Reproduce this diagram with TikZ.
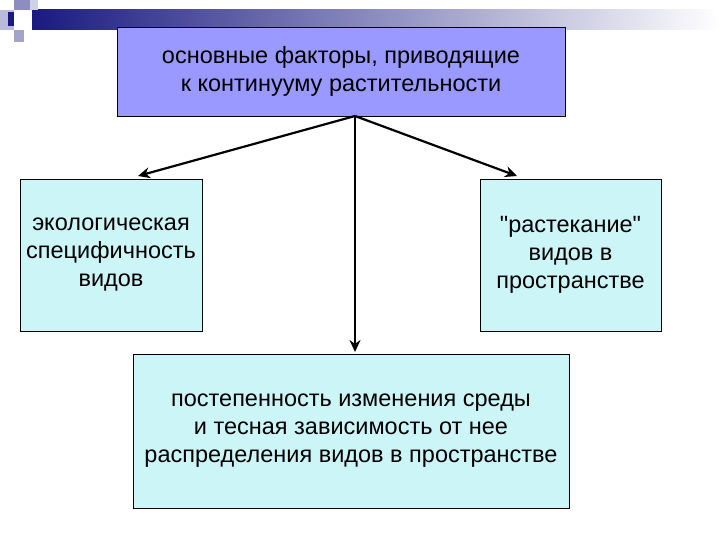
\documentclass[tikz,border=0pt]{standalone}
\usepackage{fontspec}
\setmainfont{Liberation Sans}[Ligatures=TeXOff]
\usetikzlibrary{arrows.meta}
\definecolor{topc}{HTML}{9999FF}
\definecolor{boxc}{HTML}{CCF5F8}
\definecolor{navy}{HTML}{1A1A80}
\begin{document}
\begin{tikzpicture}[x=1pt,y=-1pt,
  box/.style={draw=black,line width=0.8pt,align=center,font=\fontsize{23.5}{28}\selectfont},
  arr/.style={line width=2.2pt,-{Stealth[length=12pt,width=11pt]}}]
\useasboundingbox (0,0) rectangle (720,540);
\fill[white] (0,0) rectangle (720,540);
% decoration
\shade[left color=navy,right color=white] (32,10) rectangle (720,30);
\fill[navy!50!white] (14,0) rectangle (30,10);
\fill[navy!30!white] (0,10) rectangle (14,30);
\fill[navy] (8,12) rectangle (14,26);
\fill[navy!40!white] (14,30) rectangle (24,42);
\fill[navy!20!white] (30,0) rectangle (38,10);
% boxes
\node[box,fill=topc,minimum width=448pt,minimum height=89pt] (top) at (341,71.5)
  {основные факторы, приводящие\\к континууму растительности};
\node[box,fill=boxc,minimum width=182pt,minimum height=152pt] (left) at (111,255)
  {экологическая\\специфичность\\видов};
\node[box,fill=boxc,minimum width=181pt,minimum height=152pt] (right) at (570.5,255)
  {"растекание"\\видов в\\пространстве};
\node[box,fill=boxc,minimum width=436pt,minimum height=154pt] (bot) at (351,431)
  {постепенность изменения среды\\и тесная зависимость от нее\\распределения видов в пространстве};
\coordinate (src) at (355,116);
\draw[arr] (src) -- (138,176);
\draw[arr] (src) -- (517,176);
\draw[arr] (src) -- (355,352);
\end{tikzpicture}
\end{document}
